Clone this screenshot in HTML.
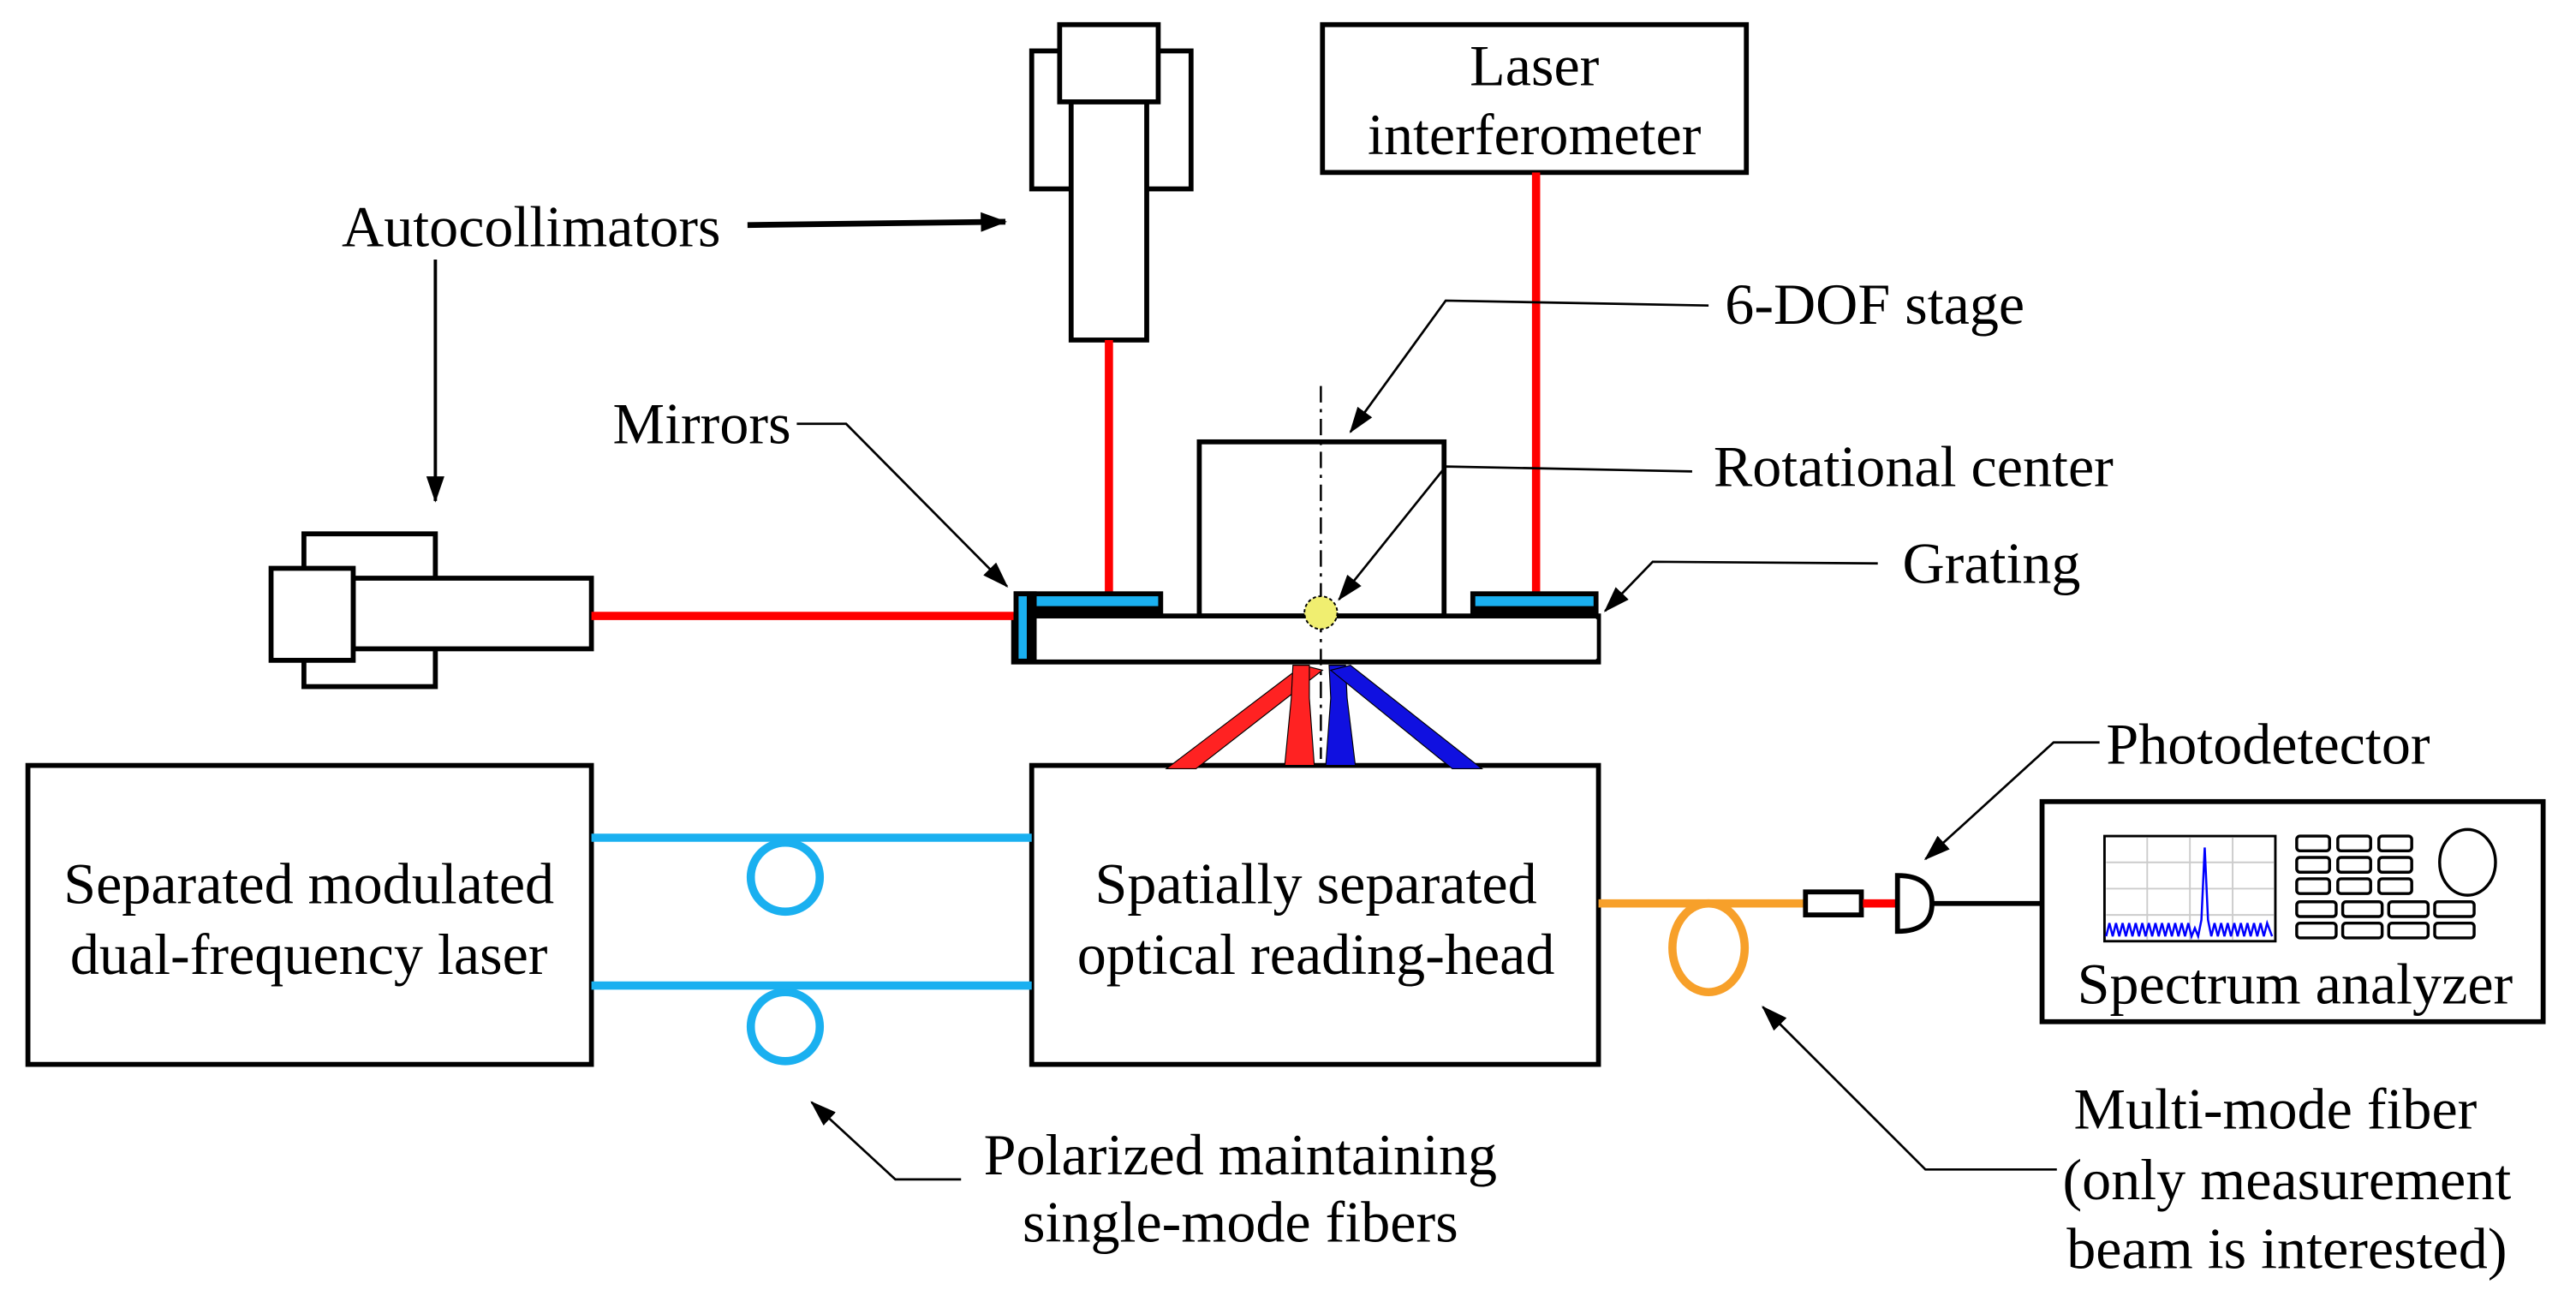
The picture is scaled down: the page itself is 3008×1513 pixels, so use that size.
<!DOCTYPE html>
<html><head><meta charset="utf-8"><style>html,body{margin:0;padding:0;background:#fff}svg{display:block}</style></head><body>
<svg width="3008" height="1513" viewBox="0 0 1568 789" preserveAspectRatio="none" xmlns="http://www.w3.org/2000/svg" font-family="'Liberation Serif', serif" font-size="35.5">
<defs><marker id="a" markerWidth="16" markerHeight="11" refX="15" refY="5.5" orient="auto" markerUnits="userSpaceOnUse"><path d="M0,0 L16,5.5 L0,11 z" fill="#000"/></marker>
<marker id="b" markerWidth="16" markerHeight="12" refX="15" refY="6" orient="auto" markerUnits="userSpaceOnUse"><path d="M0,0 L16,6 L0,12 z" fill="#000"/></marker></defs>
<rect width="1568" height="789" fill="#fff"/>
<g fill="#fff" stroke="#000" stroke-width="3">
<rect x="628" y="31" width="97" height="84"/>
<rect x="652" y="62" width="46" height="145"/>
<rect x="645" y="15" width="60" height="47"/>
<rect x="185" y="325" width="80" height="93"/>
<rect x="215" y="352" width="145" height="43"/>
<rect x="165" y="346" width="50" height="56"/>
<rect x="805" y="15" width="258" height="90"/>
<rect x="730" y="269" width="149" height="106"/>
<rect x="617" y="375" width="356" height="28"/>
<rect x="17" y="466" width="343" height="182"/>
<rect x="628" y="466" width="345" height="182"/>
<rect x="1243" y="488" width="305" height="134"/>
</g>
<g stroke="#ff0000" stroke-width="5">
<line x1="675" y1="207" x2="675" y2="361"/>
<line x1="935" y1="105" x2="935" y2="361"/>
<line x1="360" y1="375" x2="617" y2="375"/>
</g>
<rect x="617" y="360" width="91" height="15" fill="#000"/>
<rect x="622" y="363" width="83" height="6" fill="#1ab0f0"/>
<rect x="895" y="360" width="78" height="15" fill="#000"/>
<rect x="898" y="363" width="72" height="6" fill="#1ab0f0"/>
<rect x="617" y="360" width="14" height="44" fill="#000"/>
<rect x="620" y="363" width="5" height="38" fill="#1ab0f0"/>
<rect x="631" y="377" width="341" height="24" fill="#fff"/>
<g stroke="#000" stroke-width="0.6">
<polygon points="793,405 805,408 728,468 710,468" fill="#f22"/>
<polygon points="787,405 797,405 797,425 800,466 782,466 786,425" fill="#f22"/>
<polygon points="809,405 819,405 820,425 825,466 807,466 810,425" fill="#1010e0"/>
<polygon points="810,408 822,405 902,468 884,468" fill="#1010e0"/>
</g>
<line x1="804" y1="235" x2="804" y2="462" stroke="#000" stroke-width="1.3" stroke-dasharray="10,4,2,4"/>
<ellipse cx="804" cy="373" rx="10" ry="10" fill="#f0ee70" stroke="#000" stroke-width="1" stroke-dasharray="2,1.5"/>
<g stroke="#1ab0f0" stroke-width="5" fill="none">
<line x1="360" y1="510" x2="628" y2="510"/>
<line x1="360" y1="600" x2="628" y2="600"/>
<circle cx="478" cy="534" r="21"/>
<circle cx="478" cy="625" r="21"/>
</g>
<line x1="973" y1="550" x2="1098" y2="550" stroke="#f7a02a" stroke-width="5"/>
<ellipse cx="1040" cy="577" rx="22" ry="27" stroke="#f7a02a" stroke-width="5" fill="none"/>
<rect x="1099" y="543" width="34" height="14" fill="#fff" stroke="#000" stroke-width="3"/>
<line x1="1134" y1="550" x2="1155" y2="550" stroke="#f00" stroke-width="5"/>
<path d="M1155,533 Q1176,533 1176,550 Q1176,567 1155,567 z" fill="#fff" stroke="#000" stroke-width="3"/>
<line x1="1176" y1="550" x2="1243" y2="550" stroke="#000" stroke-width="3"/>
<rect x="1281" y="509" width="104" height="64" fill="#fff" stroke="#000" stroke-width="1.5"/>
<g stroke="#ccc" stroke-width="1"><line x1="1307" y1="510" x2="1307" y2="572"/><line x1="1333" y1="510" x2="1333" y2="572"/><line x1="1359" y1="510" x2="1359" y2="572"/><line x1="1282" y1="525" x2="1384" y2="525"/><line x1="1282" y1="541" x2="1384" y2="541"/><line x1="1282" y1="557" x2="1384" y2="557"/></g>
<polyline points="1282,570 1284,562 1286,570 1288,562 1290,570 1292,562 1294,570 1296,562 1298,570 1300,562 1302,570 1304,562 1306,570 1308,562 1310,570 1312,562 1314,570 1316,562 1318,570 1320,562 1322,570 1324,562 1326,570 1328,562 1330,570 1332,562 1334,570 1336,565 1338,570 1340,560 1342,516 1344,560 1346,570 1348,562 1350,570 1352,562 1354,570 1356,562 1358,570 1360,562 1362,570 1364,562 1366,570 1368,562 1370,570 1372,562 1374,570 1376,562 1378,570 1380,562 1383,570" fill="none" stroke="#00f" stroke-width="1.3"/>
<g fill="#fff" stroke="#000" stroke-width="1.8">
<rect x="1398" y="509" width="20" height="9" rx="2"/><rect x="1423" y="509" width="20" height="9" rx="2"/><rect x="1448" y="509" width="20" height="9" rx="2"/>
<rect x="1398" y="522" width="20" height="9" rx="2"/><rect x="1423" y="522" width="20" height="9" rx="2"/><rect x="1448" y="522" width="20" height="9" rx="2"/>
<rect x="1398" y="535" width="20" height="9" rx="2"/><rect x="1423" y="535" width="20" height="9" rx="2"/><rect x="1448" y="535" width="20" height="9" rx="2"/>
<rect x="1398" y="549" width="24" height="9" rx="2"/><rect x="1426" y="549" width="24" height="9" rx="2"/><rect x="1454" y="549" width="24" height="9" rx="2"/><rect x="1482" y="549" width="24" height="9" rx="2"/>
<rect x="1398" y="562" width="24" height="9" rx="2"/><rect x="1426" y="562" width="24" height="9" rx="2"/><rect x="1454" y="562" width="24" height="9" rx="2"/><rect x="1482" y="562" width="24" height="9" rx="2"/>
<ellipse cx="1502" cy="525" rx="17" ry="20"/>
</g>
<line x1="455" y1="137" x2="612" y2="135" stroke="#000" stroke-width="3.5" marker-end="url(#b)"/>
<line x1="265" y1="158" x2="265" y2="305" stroke="#000" stroke-width="2" marker-end="url(#a)"/>
<g fill="none" stroke="#000" stroke-width="1.4" marker-end="url(#a)">
<polyline points="485,258 515,258 613,357"/>
<polyline points="1040,186 880,183 822,263"/>
<polyline points="1030,287 880,284 815,365"/>
<polyline points="1143,343 1006,342 977,372"/>
<polyline points="1278,452 1250,452 1172,523"/>
<polyline points="1252,712 1172,712 1073,613"/>
<polyline points="585,718 545,718 494,671"/>
</g>
<g fill="#000">
<text x="208" y="150">Autocollimators</text>
<text x="373" y="270">Mirrors</text>
<text x="934" y="52" text-anchor="middle">Laser</text>
<text x="934" y="94" text-anchor="middle">interferometer</text>
<text x="1050" y="197">6-DOF stage</text>
<text x="1043" y="296">Rotational center</text>
<text x="1158" y="355">Grating</text>
<text x="1282" y="465">Photodetector</text>
<text x="188" y="550" text-anchor="middle">Separated modulated</text>
<text x="188" y="593" text-anchor="middle">dual-frequency laser</text>
<text x="801" y="550" text-anchor="middle">Spatially separated</text>
<text x="801" y="593" text-anchor="middle">optical reading-head</text>
<text x="1397" y="611" text-anchor="middle">Spectrum analyzer</text>
<text x="755" y="715" text-anchor="middle">Polarized maintaining</text>
<text x="755" y="756" text-anchor="middle">single-mode fibers</text>
<text x="1385" y="687" text-anchor="middle">Multi-mode fiber</text>
<text x="1392" y="730" text-anchor="middle">(only measurement</text>
<text x="1392" y="772" text-anchor="middle">beam is interested)</text>
</g>
</svg>
</body></html>
